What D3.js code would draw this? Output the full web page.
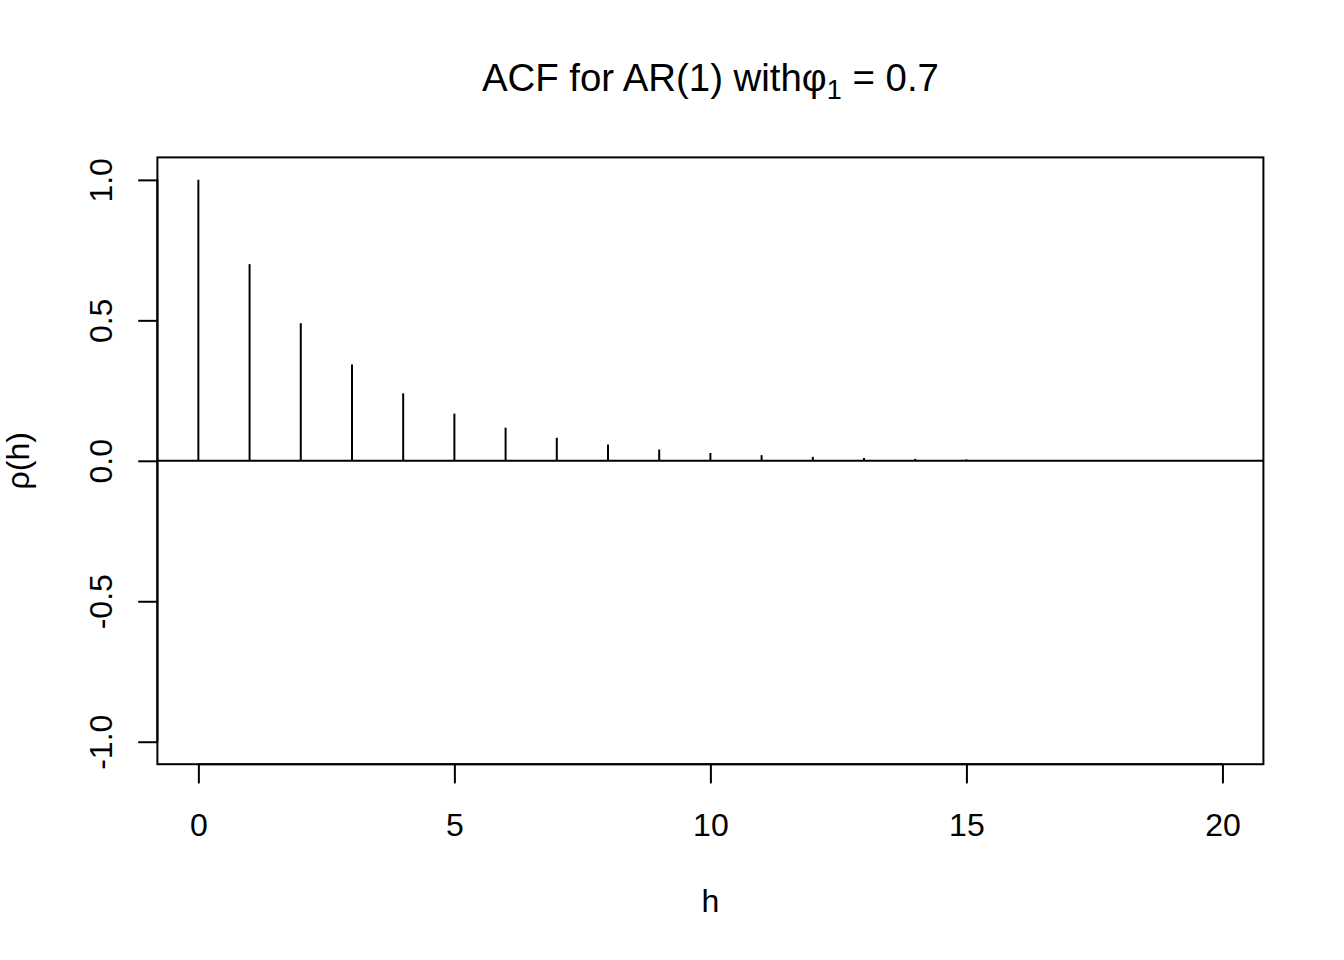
<!DOCTYPE html>
<html>
<head>
<meta charset="utf-8">
<script src="https://cdn.jsdelivr.net/npm/d3@7"></script>
<style>
  html, body { margin: 0; padding: 0; background: #fff; }
  svg { display: block; }
  text { font-family: "Liberation Sans", Arial, Helvetica, sans-serif; fill: #000; }
  .axis path, .axis line { stroke: #000; stroke-width: 2px; }
</style>
</head>
<body>
<svg id="chart" width="1344" height="960"></svg>
<script>
// lags and autocorrelation values
const lags = [0, 1, 2, 3, 4, 5, 6, 7, 8, 9, 10, 11, 12, 13, 14, 15, 16, 17, 18, 19, 20];
const rho  = [1.0, 0.70, 0.49, 0.343, 0.24, 0.168, 0.118, 0.082, 0.058, 0.040, 0.028,
              0.020, 0.014, 0.010, 0.007, 0.005, 0.003, 0.002, 0.002, 0.001, 0.001];
const xTicks = [0, 5, 10, 15, 20];
const yTicks = [-1.0, -0.5, 0.0, 0.5, 1.0];

const W = 1344, H = 960;
const margin = { top: 157.4, right: 80.6, bottom: 195.8, left: 157.4 };
const svg = d3.select('#chart');

const x = d3.scaleLinear().domain([-0.8, 20.8]).range([margin.left, W - margin.right]);
const y = d3.scaleLinear().domain([-1.08, 1.08]).range([H - margin.bottom, margin.top]);

// R prints a plain hyphen for negatives
const fmtY = d => d.toFixed(1);

// plot box
svg.append('rect')
  .attr('x', margin.left).attr('y', margin.top)
  .attr('width', W - margin.left - margin.right)
  .attr('height', H - margin.top - margin.bottom)
  .attr('fill', 'none').attr('stroke', '#000').attr('stroke-width', 2);

// x axis (R style: spine only over tick range)
const xAxis = svg.append('g').attr('class', 'axis')
  .attr('transform', `translate(0,${H - margin.bottom})`)
  .call(d3.axisBottom(x).tickValues(xTicks).tickSize(19.2).tickSizeOuter(0).tickFormat(d3.format('d')));
xAxis.select('.domain').attr('d', `M${x(0)},0H${x(20)}`);
xAxis.selectAll('text').attr('font-size', 32).attr('dy', null).attr('y', 72)
  .style('font-family', '"Liberation Sans", Arial, sans-serif');

// y axis
const yAxis = svg.append('g').attr('class', 'axis')
  .attr('transform', `translate(${margin.left},0)`)
  .call(d3.axisLeft(y).tickValues(yTicks).tickSize(19.2).tickSizeOuter(0).tickFormat(fmtY));
yAxis.select('.domain').attr('d', `M0,${y(-1)}V${y(1)}`);
yAxis.selectAll('.tick text')
  .attr('font-size', 32).attr('x', null).attr('dy', null)
  .attr('text-anchor', 'middle')
  .attr('transform', 'translate(-45,0) rotate(-90)')
  .style('font-family', '"Liberation Sans", Arial, sans-serif');

// zero line
svg.append('line')
  .attr('x1', margin.left).attr('x2', W - margin.right)
  .attr('y1', y(0)).attr('y2', y(0))
  .attr('stroke', '#000').attr('stroke-width', 2);

// spikes
svg.append('g').selectAll('line')
  .data(lags)
  .join('line')
  .attr('x1', d => x(d)).attr('x2', d => x(d))
  .attr('y1', y(0)).attr('y2', (d, i) => y(rho[i]))
  .attr('stroke', '#000').attr('stroke-width', 2);

// labels
svg.append('text')
  .attr('x', (margin.left + W - margin.right) / 2).attr('y', 912)
  .attr('text-anchor', 'middle').attr('font-size', 32).text('h');

svg.append('text')
  .attr('transform', `translate(29,${(margin.top + H - margin.bottom) / 2}) rotate(-90)`)
  .attr('text-anchor', 'middle').attr('font-size', 32).text('ρ(h)');

const title = svg.append('text')
  .attr('x', (margin.left + W - margin.right) / 2).attr('y', 91)
  .attr('text-anchor', 'middle').attr('font-size', 38.4);
title.append('tspan').text('ACF for AR(1) with');
title.append('tspan').text('φ');
title.append('tspan').attr('font-size', 27).attr('dy', 8).text('1');
title.append('tspan').attr('dy', -8).text(' = 0.7');
</script>
</body>
</html>
